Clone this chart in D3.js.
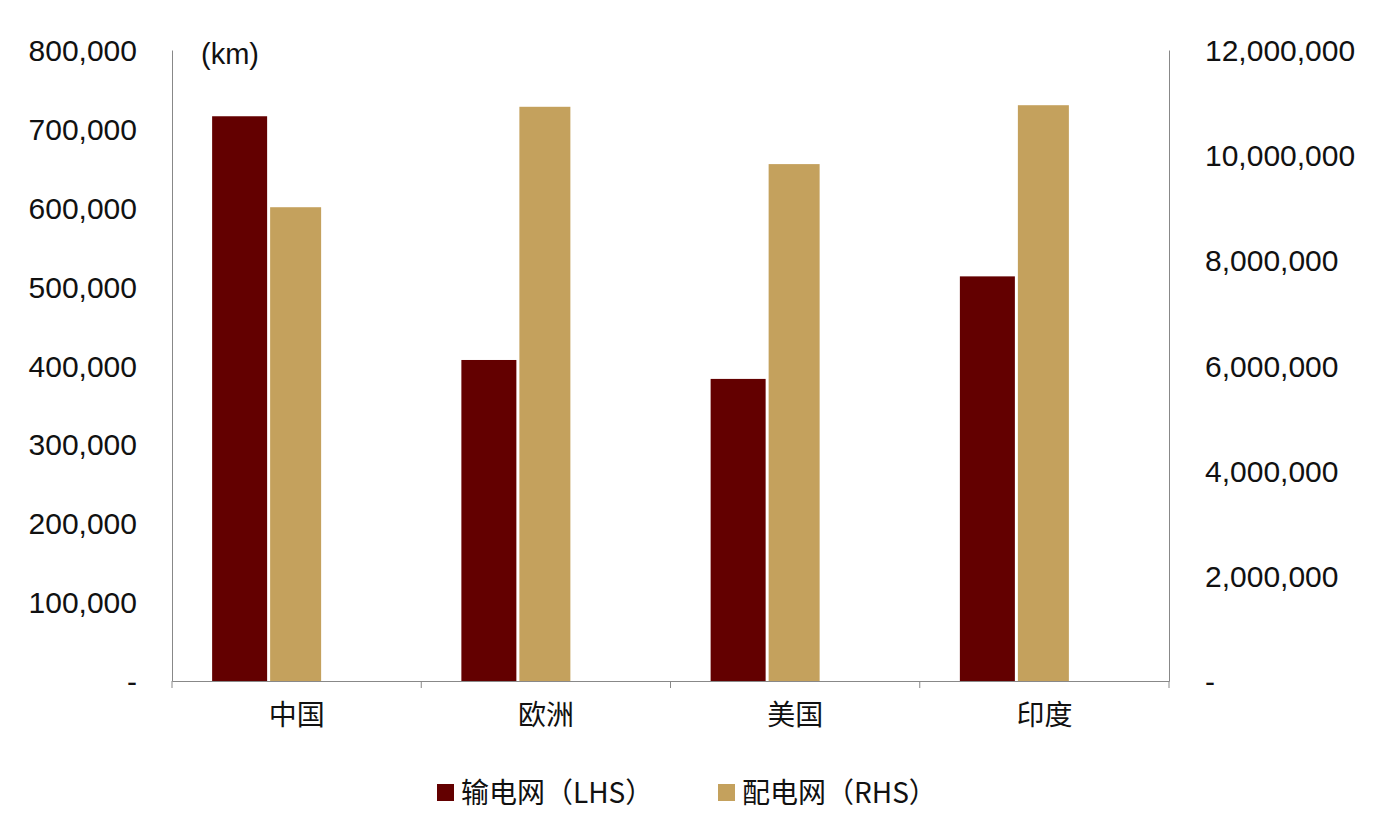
<!DOCTYPE html><html><head><meta charset="utf-8"><script src="https://cdn.jsdelivr.net/npm/d3@7"></script>
<style>body{margin:0;background:#fff}</style></head><body><svg id="c" width="1384" height="822"></svg>
<script>
const categories=["中国","欧洲","美国","印度"];
const lhsValues=[716000,407000,383000,513000];
const rhsValues=[9010000,10920000,9830000,10950000];
const lhsTicks=[0,100000,200000,300000,400000,500000,600000,700000,800000];
const rhsTicks=[0,2000000,4000000,6000000,8000000,10000000,12000000];
const svg=d3.select("#c");
const L=172,R=1169,T=50,B=681,font="Liberation Sans, Arial, sans-serif";
const x=d3.scaleBand().domain(categories).range([L,R]);
const yL=d3.scaleLinear().domain([0,800000]).range([B,T]);
const yR=d3.scaleLinear().domain([0,12000000]).range([B,T]);
const fmt=v=>v===0?"-":d3.format(",")(v);
const bw=55,gap=3,off=-29;
svg.selectAll(".l").data(categories).join("rect").attr("x",d=>x(d)+x.bandwidth()/2-bw-gap/2+off+1).attr("width",bw)
 .attr("y",(d,i)=>yL(lhsValues[i])).attr("height",(d,i)=>B-yL(lhsValues[i])).attr("fill","#630000");
svg.selectAll(".r").data(categories).join("rect").attr("x",d=>x(d)+x.bandwidth()/2+gap/2+off+1).attr("width",bw-4)
 .attr("y",(d,i)=>yR(rhsValues[i])).attr("height",(d,i)=>B-yR(rhsValues[i])).attr("fill","#c4a15d");
const gl=svg.append("g").attr("transform",`translate(${L},0)`).call(d3.axisLeft(yL).tickValues(lhsTicks).tickFormat(fmt).tickSize(0).tickPadding(35));
const gr=svg.append("g").attr("transform",`translate(${R},0)`).call(d3.axisRight(yR).tickValues(rhsTicks).tickFormat(fmt).tickSize(0).tickPadding(36));
const gx=svg.append("g").attr("transform",`translate(0,${B})`).call(d3.axisBottom(x).tickSize(0).tickPadding(24));
gx.selectAll(".tick").append("line").attr("x1",-x.bandwidth()/2).attr("x2",-x.bandwidth()/2).attr("y2",7).attr("stroke","#888");
gx.append("line").attr("x1",R).attr("x2",R).attr("y2",7).attr("stroke","#888");
[gl,gr,gx].forEach(g=>{g.selectAll("text").attr("font-family",font).attr("font-size",30).attr("fill","#111");g.select(".domain").attr("stroke","#888")});
gx.selectAll("text").attr("font-family","Noto Sans CJK SC").attr("font-size",28);
gl.selectAll("text").attr("dy","0.35em");gr.selectAll("text").attr("dy","0.35em");
svg.append("text").attr("x",201).attr("y",64).text("(km)").attr("font-family",font).attr("font-size",29).attr("fill","#111");
const leg=[["输电网（LHS）","#630000",437],["配电网（RHS）","#c4a15d",718]];
leg.forEach(([t,c,lx])=>{svg.append("rect").attr("x",lx).attr("y",784).attr("width",17).attr("height",17).attr("fill",c);
 svg.append("text").attr("x",lx+24).attr("y",803).text(t).attr("font-family","Noto Sans CJK SC").attr("font-size",28).attr("fill","#111");});
</script></body></html>
